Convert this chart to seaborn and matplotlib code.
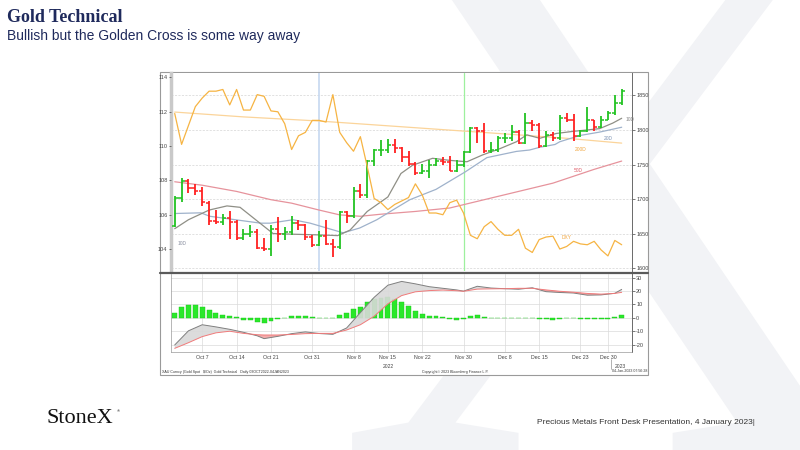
# =========================================================
# GOLD TECHNICAL SLIDE - XAU DAILY BARS, MAs, DXY, MACD
# =========================================================

import numpy as np
import pandas as pd
import matplotlib
matplotlib.use("Agg")
import matplotlib.pyplot as plt
import matplotlib.transforms as mtransforms
import seaborn as sns
from matplotlib.lines import Line2D
from matplotlib.patches import Rectangle

# =========================================================
# DATA
# =========================================================

dates = [d for d in pd.bdate_range("2022-10-03", "2023-01-04")
         if d not in (pd.Timestamp("2022-12-26"), pd.Timestamp("2023-01-02"))]

opens = [1661, 1701, 1726, 1716, 1712, 1694, 1668, 1666, 1673, 1666,
         1644, 1650, 1652, 1629, 1628, 1657, 1649, 1652, 1665, 1663,
         1645, 1634, 1647, 1635, 1630, 1681, 1676, 1712, 1706, 1755,
         1771, 1771, 1778, 1774, 1761, 1751, 1738, 1740, 1750, 1755,
         1753, 1741, 1749, 1768, 1803, 1798, 1769, 1771, 1788, 1789,
         1797, 1781, 1810, 1807, 1777, 1793, 1788, 1817, 1814, 1792,
         1798, 1814, 1804, 1815, 1824, 1839]
highs = [1704, 1730, 1729, 1722, 1717, 1697, 1684, 1679, 1682, 1670,
         1657, 1663, 1657, 1643, 1662, 1674, 1659, 1675, 1670, 1664,
         1648, 1653, 1670, 1642, 1683, 1683, 1717, 1722, 1757, 1773,
         1786, 1787, 1787, 1776, 1769, 1754, 1751, 1756, 1759, 1761,
         1763, 1757, 1769, 1804, 1804, 1810, 1782, 1791, 1795, 1807,
         1800, 1824, 1814, 1810, 1799, 1797, 1822, 1824, 1823, 1800,
         1833, 1815, 1820, 1827, 1850, 1859]
lows = [1659, 1696, 1708, 1706, 1690, 1663, 1664, 1663, 1642, 1640,
        1640, 1645, 1628, 1624, 1617, 1638, 1640, 1648, 1655, 1641,
        1630, 1632, 1633, 1616, 1628, 1665, 1673, 1701, 1701, 1748,
        1762, 1767, 1767, 1754, 1748, 1735, 1736, 1730, 1748, 1749,
        1740, 1739, 1746, 1767, 1781, 1767, 1766, 1768, 1781, 1784,
        1780, 1779, 1798, 1774, 1776, 1784, 1786, 1811, 1784, 1790,
        1797, 1799, 1803, 1814, 1822, 1836]
closes = [1702, 1726, 1716, 1712, 1695, 1668, 1666, 1673, 1666, 1644,
          1650, 1652, 1629, 1628, 1657, 1649, 1652, 1665, 1663, 1645,
          1634, 1647, 1635, 1630, 1681, 1676, 1712, 1706, 1755, 1771,
          1771, 1778, 1774, 1761, 1751, 1738, 1740, 1750, 1755, 1753,
          1741, 1749, 1768, 1803, 1798, 1769, 1771, 1788, 1789, 1797,
          1781, 1810, 1807, 1777, 1793, 1788, 1817, 1814, 1792, 1798,
          1814, 1804, 1815, 1824, 1839, 1857]

# DXY (left axis)
dxy = [111.9, 110.1, 111.2, 112.3, 112.8, 113.2, 113.2, 113.3, 112.4, 113.3,
       112.1, 112.1, 113.0, 112.9, 112.05, 112.0, 111.3, 109.8, 110.6, 110.8,
       111.5, 111.5, 111.4, 113.0, 110.8, 110.2, 109.7, 110.55, 108.8, 106.95,
       106.7, 106.3, 106.6, 106.8, 107.0, 107.8, 107.15, 106.1, 106.1, 106.0,
       106.7, 106.85, 106.1, 104.8, 104.6, 105.3, 105.6, 105.15, 104.8, 104.8,
       105.15, 104.05, 103.8, 104.55, 104.7, 104.75, 104.0, 104.15, 104.45, 104.3,
       104.25, 104.45, 103.95, 103.6, 104.5, 104.25]

# moving averages (right axis), sampled at bar positions
ma10_pos = [0, 2, 5, 7.6, 9.5, 12.4, 14.3, 17.2, 21, 23.7, 25.5, 28, 31, 32.9,
            34.6, 37.5, 40, 42.5, 44.8, 47.3, 49.7, 51.2, 53.1, 55.5, 57.9,
            59.9, 61.8, 63.7, 65]
ma10 = [1657, 1670, 1684, 1690, 1688, 1665, 1650, 1649, 1648, 1647, 1655, 1682,
        1703, 1737, 1749, 1759, 1756, 1754, 1764, 1773, 1783, 1793, 1788, 1795,
        1798, 1800, 1802, 1810, 1817]

ma20_pos = [0, 3.8, 5.1, 8.8, 12.5, 13.9, 17.2, 19.7, 22.1, 24.5, 26.9, 29.4,
            31.7, 34.2, 38, 42.2, 45.4, 49.7, 51.6, 53.1, 55.3, 56, 58.9, 61.8, 65]
ma20 = [1679, 1680, 1675, 1670, 1665, 1665, 1670, 1665, 1658, 1651, 1658, 1670,
        1684, 1699, 1714, 1739, 1760, 1769, 1771, 1775, 1779, 1783, 1792, 1797, 1804]

ma50_pos = [0, 4, 9, 14, 17, 21, 24, 27, 30, 35, 40, 45, 50, 55, 61, 65]
ma50 = [1725, 1720, 1711, 1699, 1694, 1684, 1677, 1675, 1678, 1682, 1687, 1699,
        1711, 1723, 1743, 1755]

ma200_pos = [0, 10, 21, 34, 47, 57, 65]
ma200 = [1826, 1819, 1813, 1804, 1795, 1788, 1781]

# lower panel: histogram and two oscillator lines
hist = [3.7, 8.0, 9.4, 9.9, 8.4, 5.7, 3.5, 2.5, 1.7, 0.4,
        -1.2, -1.7, -3.0, -4.0, -2.0, -0.7, -0.2, 1.2, 1.7, 1.2,
        0.4, 0.3, 0.2, 0.1, 2.0, 3.7, 6.7, 8.2, 11.9, 14.3,
        15.0, 15.5, 14.1, 11.9, 8.6, 5.4, 3.2, 1.7, 1.2, 0.5,
        -0.5, -1.2, -0.5, 1.2, 2.0, 0.7, 0.1, 0.1, 0.1, 0.1,
        0.2, 0.3, 0.3, -0.7, -0.7, -1.4, -0.7, -0.3, -0.3, -1.0,
        -1.0, -0.9, -0.8, -0.6, 0.4, 2.0]

osc_pos = [0, 2, 4, 6, 8, 10, 12, 13, 15, 17, 19, 21, 23, 25, 27, 29, 31, 33,
           35, 37, 39, 41, 42, 44, 46, 48, 50, 52, 54, 56, 58, 60, 62, 64, 65]
osc_grey = [-20, -9.5, -5, -6.6, -8.4, -10.6, -13.2, -15.3, -13.6, -11.6, -10.3,
            -11.5, -12.1, -7.4, 4, 15.3, 24.3, 27.1, 25.3, 23.2, 22, 20.8, 19.9,
            23.5, 22.2, 21.7, 21.3, 22.4, 19.5, 18.9, 18.5, 16.9, 17.1, 18.3, 21.2]
osc_red = [-22.5, -18.3, -13.8, -11, -9.8, -11.4, -12.4, -12.6, -12.6, -12.2,
           -11.6, -11.4, -11.4, -8.9, -5, 1.3, 10.5, 16.6, 19.4, 20.3, 20.7, 20.2,
           19.8, 21.4, 21.6, 21.7, 22, 22, 20.8, 19.8, 19.1, 18.2, 17.7, 18.2, 19]

tick_dates = ["2022-10-07", "2022-10-14", "2022-10-21", "2022-10-31", "2022-11-08",
              "2022-11-15", "2022-11-22", "2022-11-30", "2022-12-08", "2022-12-15",
              "2022-12-23", "2022-12-30"]

price_ticks = [1600, 1650, 1700, 1750, 1800, 1850]
dxy_ticks = [104, 106, 108, 110, 112, 114]
osc_ticks = [-20, -10, 0, 10, 20, 30]

# =========================================================
# FIGURE
# =========================================================

sns.set_style("white")
plt.rcParams["font.family"] = ["Liberation Sans", "DejaVu Sans"]

fig = plt.figure(figsize=(8, 4.5), dpi=100)
fig.patch.set_facecolor("white")

NAVY = "#1f2a5c"

# watermark X
fig.text(0.77, 0.41, "X", fontsize=560, family="Liberation Serif",
         color="#f2f3f6", ha="center", va="center", zorder=0)

fig.text(0.009, 0.962, "Gold Technical", fontsize=13, fontweight="bold",
         family="Liberation Serif", color=NAVY, va="center")
fig.text(0.009, 0.92, "Bullish but the Golden Cross is some way away",
         fontsize=10, color=NAVY, va="center")
fig.text(0.058, 0.07, "StoneX", fontsize=16, family="Liberation Serif",
         color="#111111", va="center")
fig.text(0.146, 0.085, "®", fontsize=3, color="#111111", va="center")
fig.text(0.671, 0.06, "Precious Metals Front Desk Presentation, 4 January 2023|",
         fontsize=6.0, family=["Liberation Sans Narrow", "Liberation Sans"],
         color="#333333", va="center")


def fx(px):
    return px / 800.0


def fy(py):
    return 1 - py / 450.0


# white chart box with thin frame
fig.patches.append(Rectangle((fx(160), fy(375)), fx(488), 303 / 450.0,
                             transform=fig.transFigure, facecolor="white",
                             edgecolor="#9a9a9a", lw=0.8, zorder=1))

ax = fig.add_axes([fx(171), fy(271), fx(461), 198 / 450.0], zorder=3)
ax2 = fig.add_axes([fx(171), fy(352), fx(461), 78 / 450.0], zorder=3)
axl = ax.twinx()

x = np.arange(len(closes))
xlim = (-0.54, 66.5)

# =========================================================
# UPPER PANEL: BARS + MOVING AVERAGES (right axis)
# =========================================================

ax.set_facecolor("white")
ax.set_xlim(xlim)
ax.set_ylim(1595.7, 1882.6)
ax.yaxis.tick_right()
ax.set_yticks(price_ticks)
ax.set_yticklabels([str(t) for t in price_ticks])
ax.tick_params(axis="y", labelsize=4, length=2, width=0.5, pad=1,
               colors="#444444", right=True, left=False,
               labelright=True, labelleft=False)
ax.tick_params(axis="x", bottom=False, labelbottom=False)
ax.grid(axis="y", color="#d4d4d4", lw=0.5, ls=(0, (3, 2)))
ax.grid(axis="x", visible=False)
for s in ["top", "bottom"]:
    ax.spines[s].set_visible(False)
ax.spines["right"].set_color("#6a6a6a")
ax.spines["right"].set_linewidth(0.7)
ax.spines["left"].set_color("#c9c9c9")
ax.spines["left"].set_linewidth(2.5)

ax.axvline(21, color="#c6d8f0", lw=1.2, zorder=1)
ax.axvline(42, color="#9ef09e", lw=0.9, zorder=1)

sns.lineplot(x=ma200_pos, y=ma200, ax=ax, color="#fbd49a", lw=0.9, estimator=None)
sns.lineplot(x=ma50_pos, y=ma50, ax=ax, color="#e6939c", lw=0.9, estimator=None)
sns.lineplot(x=ma20_pos, y=ma20, ax=ax, color="#9fb2cb", lw=0.9, estimator=None)
sns.lineplot(x=ma10_pos, y=ma10, ax=ax, color="#8f8f86", lw=0.9, estimator=None)

for i in x:
    c = "#22c322" if closes[i] >= opens[i] else "#ff2020"
    ax.vlines(i, lows[i], highs[i], color=c, lw=1.3, zorder=4)
    ax.hlines(opens[i], i - 0.45, i, color=c, lw=1.1, zorder=4)
    ax.hlines(closes[i], i, i + 0.45, color=c, lw=1.1, zorder=4)

ax.text(65.6, 1815, "10D", fontsize=3.5, color="#888888", va="center")
ax.text(62.4, 1787, "20D", fontsize=3.5, color="#7d93b3", va="center")
ax.text(58.2, 1772, "200D", fontsize=3.5, color="#f0a640", va="center")
ax.text(58.0, 1741, "50D", fontsize=3.5, color="#e0606b", va="center")
ax.text(0.4, 1635, "10D", fontsize=3.5, color="#8a8fa0", va="center")
ax.set_ylabel("")

# DXY on the left axis
axl.set_ylim(102.72, 114.26)
axl.set_xlim(xlim)
axl.yaxis.tick_left()
axl.set_yticks(dxy_ticks)
axl.set_yticklabels([str(t) for t in dxy_ticks])
axl.tick_params(axis="y", labelsize=4, length=1.5, width=0.5, pad=1,
                colors="#444444", left=True, right=False, labelleft=True,
                labelright=False)
axl.patch.set_visible(False)
for s in axl.spines.values():
    s.set_visible(False)
sns.lineplot(x=x, y=dxy, ax=axl, color="#f6b443", lw=0.9, estimator=None)
axl.text(56.2, 104.7, "DXY", fontsize=3.5, color="#f0a640", va="center")
axl.set_ylabel("")

# =========================================================
# LOWER PANEL: OSCILLATOR
# =========================================================

ax2.set_facecolor("white")
ax2.set_xlim(xlim)
ax2.set_ylim(-25.2, 32.6)
ax2.yaxis.tick_right()
ax2.set_yticks(osc_ticks)
ax2.set_yticklabels([str(t) for t in osc_ticks])
ax2.tick_params(axis="y", labelsize=4, length=2, width=0.5, pad=1,
                colors="#444444", right=True, left=False)

tick_pos = [dates.index(pd.Timestamp(d)) for d in tick_dates]
tick_lab = [f"{dates[p]:%b} {dates[p].day}" for p in tick_pos]
ax2.set_xticks(tick_pos)
ax2.set_xticklabels(tick_lab)
ax2.set_xticks(x, minor=True)
ax2.tick_params(axis="x", which="major", labelsize=3.8, length=2, width=0.5,
                pad=0.5, colors="#444444")
ax2.tick_params(axis="x", which="minor", length=1, width=0.4, colors="#777777")
ax2.grid(True, which="major", color="#dadada", lw=0.5)
for s in ["top", "left", "bottom"]:
    ax2.spines[s].set_color("#9a9a9a")
    ax2.spines[s].set_linewidth(0.5)
ax2.spines["top"].set_visible(False)
ax2.spines["right"].set_color("#6a6a6a")
ax2.spines["right"].set_linewidth(0.7)

ax2.bar(x, hist, width=0.72, color="#2ae82a", edgecolor="#18c818", lw=0.3, zorder=2)

g = np.array(osc_grey)
r = np.array(osc_red)
ax2.fill_between(osc_pos, g, r, where=g >= r, interpolate=True,
                 color="#d9d9d9", alpha=0.9, lw=0, zorder=2)
ax2.fill_between(osc_pos, g, r, where=g < r, interpolate=True,
                 color="#f2a3a3", alpha=0.9, lw=0, zorder=2)
sns.lineplot(x=osc_pos, y=osc_grey, ax=ax2, color="#7f7f7f", lw=0.7, estimator=None, zorder=3)
sns.lineplot(x=osc_pos, y=osc_red, ax=ax2, color="#f07a7a", lw=0.7, estimator=None, zorder=3)
ax2.set_ylabel("")

trans = mtransforms.blended_transform_factory(ax2.transData, ax2.transAxes)
ax2.text(31, -0.19, "2022", fontsize=3.6, color="#444444", ha="center",
         va="center", transform=trans)
ax2.text(64.8, -0.19, "2023", fontsize=3.6, color="#444444", ha="center",
         va="center", transform=trans)
ax2.plot([63.5, 63.5], [-0.09, -0.22], color="#777777", lw=0.4,
         transform=trans, clip_on=False)

# separator between panels
fig.lines.append(Line2D([fx(160), fx(648)], [fy(272.5), fy(272.5)],
                        transform=fig.transFigure, color="#5a5a5a", lw=1.6,
                        zorder=5))

# footer inside the chart box
fig.text(fx(162), fy(371.5), "XAU Curncy (Gold Spot   $/Oz)  Gold Technical   Daily 03OCT2022-04JAN2023",
         fontsize=2.6, color="#333333", va="center", zorder=5)
fig.text(fx(455), fy(371.5), "Copyright\u00a9 2023 Bloomberg Finance L.P.",
         fontsize=2.6, color="#333333", va="center", ha="center", zorder=5)
fig.text(fx(647), fy(371.5), "04-Jan-2023 07:56:28", fontsize=2.6,
         color="#333333", va="center", ha="right", zorder=5)

fig.savefig("out.png", dpi=100)
